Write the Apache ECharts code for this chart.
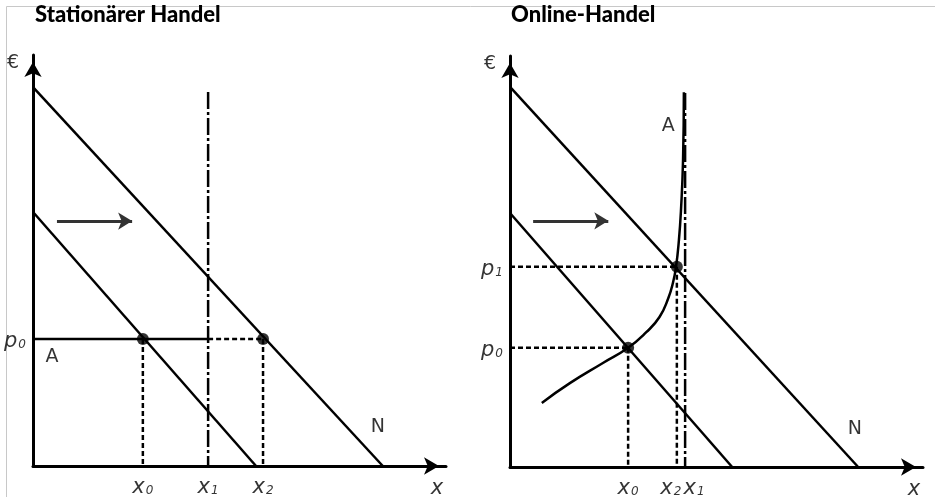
<!DOCTYPE html>
<html>
<head>
<meta charset="utf-8">
<script src="https://cdn.jsdelivr.net/npm/echarts@6/dist/echarts.min.js"></script>
<style>
html, body { margin: 0; padding: 0; background: #fff; }
#chart { width: 935px; height: 497px; }
</style>
</head>
<body>
<div id="chart"></div>
<script>
// both panels use 0..100 on each axis
var titles = ['Stationärer Handel', 'Online-Handel'];

// left panel: stationary retail
var demandOldL = [[0, 61.8], [54.0, 0]];
var demandNewL = [[0, 92.2], [84.7, 0]];
var priceL = 30.9;                 // p0
var qtyL = [26.6, 42.4, 55.7];     // x0, x1, x2
var capTopL = 91;                  // top of capacity line x1
var shiftL = [[5.8, 59.6], [24.0, 59.6]];

// right panel: online retail
var demandOldR = [[0, 61.8], [53.8, 0]];
var demandNewR = [[0, 92.5], [84.3, 0]];
var priceR = [29.0, 48.7];         // p0, p1
var qtyR = [28.6, 42.4, 40.4];     // x0, x1, x2
var capTopR = 91;
var shiftR = [[5.6, 59.9], [23.8, 59.9]];
var supplyR = [
	[7.7, 15.6], [14.5, 20.4], [22.5, 25.3], [28.6, 29.0], [33.0, 32.8],
	[36.2, 36.5], [38.3, 41.0], [39.5, 45.0], [40.2, 48.7], [40.9, 55.2],
	[41.4, 62.5], [41.9, 74.7], [42.1, 91.2]
];

var chart = echarts.init(document.getElementById('chart'));

var lblFont = 'DejaVu Sans';
var labelStyle = {
	show: true,
	fontFamily: lblFont,
	fontSize: 19,
	color: '#000',
	rich: {
		m: { fontFamily: lblFont, fontSize: 21, fontStyle: 'italic', color: '#000', lineHeight: 20, verticalAlign: 'top' },
		s: { fontFamily: lblFont, fontSize: 12, fontStyle: 'italic', color: '#000', lineHeight: 13, verticalAlign: 'bottom', padding: [10, 0, 0, 1] }
	}
};

function sub(main, idx) {
	return '{m|' + main + '}{s|' + idx + '}';
}

function tag(x, y, text, pos, dist, off) {
	return {
		value: [x, y],
		label: {
			formatter: text,
			position: pos,
			distance: dist || 0,
			offset: off || [0, 0]
		}
	};
}

function axes(gi) {
	var line = {
		show: true,
		symbol: ['none', 'arrow'],
		symbolSize: [13, 15],
		symbolOffset: [0, -7],
		lineStyle: { color: '#000', width: 3 }
	};
	return {
		x: { type: 'value', gridIndex: gi, min: 0, max: 100, axisLine: line, axisTick: { show: false }, axisLabel: { show: false }, splitLine: { show: false } },
		y: { type: 'value', gridIndex: gi, min: 0, max: 100, axisLine: line, axisTick: { show: false }, axisLabel: { show: false }, splitLine: { show: false } }
	};
}

var solid = { color: '#000', width: 2.5 };
var dashed = { color: '#000', width: 2.5, type: [5, 3] };
var capDash = { color: '#000', width: 2.5, type: [17, 3, 3, 3] };

function seg(gi, data, style, extra) {
	var s = {
		type: 'line',
		xAxisIndex: gi,
		yAxisIndex: gi,
		data: data,
		symbol: 'none',
		silent: true,
		lineStyle: style,
		z: 3
	};
	if (extra) for (var k in extra) s[k] = extra[k];
	return s;
}

function shiftArrow(gi, pts) {
	return {
		type: 'line', xAxisIndex: gi, yAxisIndex: gi, data: [], silent: true,
		markLine: {
			silent: true,
			symbol: ['none', 'arrow'],
			symbolSize: [13, 14],
			label: { show: false },
			lineStyle: { color: '#333', width: 3, type: 'solid' },
			data: [[{ coord: pts[0] }, { coord: pts[1] }]]
		}
	};
}

function tags(gi, data) {
	return {
		type: 'scatter', xAxisIndex: gi, yAxisIndex: gi, silent: true, z: 6,
		symbolSize: 0, itemStyle: { color: 'transparent' },
		label: labelStyle,
		data: data
	};
}

var ax0 = axes(0), ax1 = axes(1);

var series = [
	// left panel
	seg(0, demandOldL, solid),
	seg(0, demandNewL, solid),
	seg(0, [[0, priceL], [qtyL[1], priceL]], solid),
	seg(0, [[qtyL[1], priceL], [qtyL[2], priceL]], dashed),
	seg(0, [[qtyL[0], priceL], [qtyL[0], 0]], dashed),
	seg(0, [[qtyL[2], priceL], [qtyL[2], 0]], dashed),
	seg(0, [[qtyL[1], capTopL], [qtyL[1], 0]], capDash),
	shiftArrow(0, shiftL),
	{
		type: 'scatter', xAxisIndex: 0, yAxisIndex: 0, silent: true, z: 5,
		symbolSize: 12, itemStyle: { color: '#000' },
		data: [[qtyL[0], priceL], [qtyL[2], priceL]]
	},
	tags(0, [
		tag(0, 98, '€', 'left', 14),
		tag(0, priceL, sub('p', '0'), 'left', 7, [0, 2]),
		tag(4.6, 26.5, 'A', 'inside'),
		tag(83.5, 9.5, 'N', 'inside'),
		tag(qtyL[0], 0, sub('x', '0'), 'bottom', 11),
		tag(qtyL[1], 0, sub('x', '1'), 'bottom', 11),
		tag(qtyL[2], 0, sub('x', '2'), 'bottom', 11),
		tag(97.8, 0, '{m|x}', 'bottom', 12)
	]),

	// right panel
	seg(1, demandOldR, solid),
	seg(1, demandNewR, solid),
	seg(1, supplyR, solid, { smooth: 0.5 }),
	seg(1, [[0, priceR[0]], [qtyR[0], priceR[0]]], dashed),
	seg(1, [[0, priceR[1]], [qtyR[2], priceR[1]]], dashed),
	seg(1, [[qtyR[0], priceR[0]], [qtyR[0], 0]], dashed),
	seg(1, [[qtyR[2], priceR[1]], [qtyR[2], 0]], dashed),
	seg(1, [[qtyR[1], capTopR], [qtyR[1], 0]], capDash),
	shiftArrow(1, shiftR),
	{
		type: 'scatter', xAxisIndex: 1, yAxisIndex: 1, silent: true, z: 5,
		symbolSize: 12, itemStyle: { color: '#000' },
		data: [[qtyR[0], priceR[0]], [qtyR[2], priceR[1]]]
	},
	tags(1, [
		tag(0, 98, '€', 'left', 14),
		tag(0, priceR[0], sub('p', '0'), 'left', 7, [0, 2]),
		tag(0, priceR[1], sub('p', '1'), 'left', 7, [0, 2]),
		tag(38.3, 83, 'A', 'inside'),
		tag(83.5, 9.2, 'N', 'inside'),
		tag(qtyR[0], 0, sub('x', '0'), 'bottom', 11),
		tag(qtyR[2], 0, sub('x', '2'), 'bottom', 11, [-6, 0]),
		tag(qtyR[1], 0, sub('x', '1'), 'bottom', 11, [9, 0]),
		tag(97.8, 0, '{m|x}', 'bottom', 12)
	])
];

var titleText = { fontFamily: 'Lato', fontWeight: 900, fontSize: 22, color: '#000' };

chart.setOption({
	animation: false,
	backgroundColor: '#fff',
	title: [
		{ text: titles[0], left: 35, top: 4, padding: 0, textStyle: titleText },
		{ text: titles[1], left: 511, top: 4, padding: 0, textStyle: titleText }
	],
	graphic: [
		{ type: 'polyline', shape: { points: [[6.5, 497], [6.5, 6.5], [935, 6.5]] }, style: { stroke: '#c8c8c8', lineWidth: 1, fill: null }, silent: true }
	],
	grid: [
		{ left: 33, top: 55, width: 413, height: 411 },
		{ left: 510, top: 56, width: 413, height: 411 }
	],
	xAxis: [ax0.x, ax1.x],
	yAxis: [ax0.y, ax1.y],
	series: series
});
</script>
</body>
</html>
